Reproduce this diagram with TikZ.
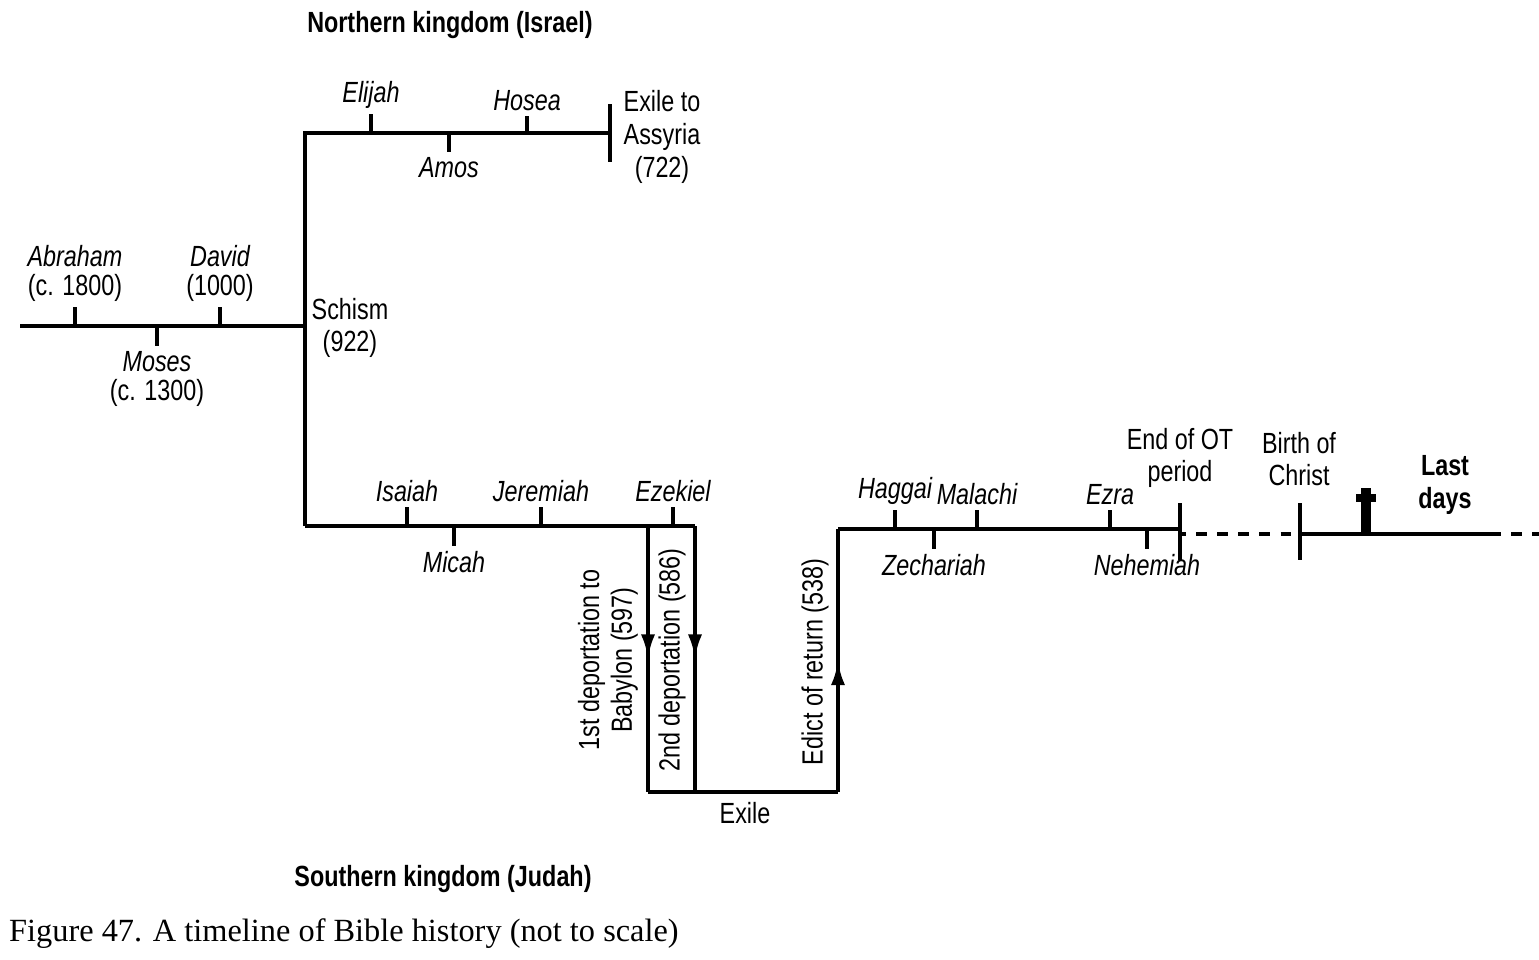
\documentclass[tikz,border=0pt]{standalone}
\usepackage{fontspec}
\setmainfont{Liberation Serif}
\setsansfont[FakeStretch=0.8]{Liberation Sans}
\usetikzlibrary{positioning,arrows.meta,decorations.markings}
\begin{document}
\begin{tikzpicture}[
  x=0.01cm, y=-0.01cm,
  every node/.style={font=\sffamily\fontsize{8.3}{9.3}\selectfont, inner sep=1pt, align=center},
  person/.style={font=\sffamily\itshape\fontsize{8.3}{9.3}\selectfont},
  head/.style={font=\sffamily\bfseries\fontsize{8.3}{9.3}\selectfont},
  line/.style={line width=1.2pt},
  arrdown/.style={postaction={decorate},decoration={markings,mark=at position 0.5 with {\arrow{Latex[length=7pt,width=4pt]}}}}
    ]
\useasboundingbox (0,0) rectangle (1539,959);

% main line
\coordinate (m0) at (20,326);
\coordinate (sch) at (305,326);
\draw[line] (m0) -- (sch);
\draw[line] (75,326) -- (75,307) node[person,above] (abr) {Abraham\\[-1pt]\normalfont\sffamily(c. 1800)};
\draw[line] (220,326) -- (220,307) node[person,above] (dav) {David\\[-1pt]\normalfont\sffamily(1000)};
\draw[line] (157,326) -- (157,346) node[person,below] (mos) {Moses\\[-1pt]\normalfont\sffamily(c. 1300)};
\node (schism) at (350,328) {Schism\\(922)};

% northern kingdom
\coordinate (n0) at (305,133);
\coordinate (n1) at (610,133);
\coordinate (s0) at (305,526);
\draw[line] (s0) -- (n0) -- (n1);
\draw[line] (610,104) -- (610,162);
\node (ass) at (662,137) {Exile to\\Assyria\\(722)};
\node[head] (nk) at (450,25) {Northern kingdom (Israel)};
\draw[line] (371,133) -- (371,114) node[person,above] (eli) {Elijah};
\draw[line] (527,133) -- (527,116) node[person,above] (hos) {Hosea};
\draw[line] (449,133) -- (449,152) node[person,below] (amo) {Amos};

% southern kingdom
\coordinate (s1) at (648,526);
\coordinate (s2) at (695,526);
\coordinate (b0) at (648,792);
\coordinate (b1) at (695,792);
\coordinate (b2) at (838,792);
\coordinate (r0) at (838,529);
\coordinate (r1) at (1180,529);
\draw[line] (s0) -- (s2);
\draw[line,arrdown] (s1) -- (b0);
\draw[line,arrdown] (s2) -- (b1);
\draw[line] (b0) -- (b2);
\draw[line,arrdown] (b2) -- (r0);
\draw[line] (r0) -- (r1);
\draw[line] (407,526) -- (407,507) node[person,above] (isa) {Isaiah};
\draw[line] (541,526) -- (541,507) node[person,above] (jer) {Jeremiah};
\draw[line] (673,526) -- (673,507) node[person,above] (eze) {Ezekiel};
\draw[line] (454,526) -- (454,546) node[person,below] (mic) {Micah};
\node[rotate=90] (dep1) at (608,660) {1st deportation to\\Babylon (597)};
\node[rotate=90] (dep2) at (672,660) {2nd deportation (586)};
\node[rotate=90] (edi) at (815,662) {Edict of return (538)};
\node (exi) at (745,813) {Exile};
\node[head] (sk) at (443,879) {Southern kingdom (Judah)};
\draw[line] (895,529) -- (895,510) node[person,above] (hag) {Haggai};
\draw[line] (977,529) -- (977,510) node[person,above] (mal) {Malachi};
\draw[line] (1110,529) -- (1110,510) node[person,above] (ezr) {Ezra};
\draw[line] (934,529) -- (934,549) node[person,below] (zec) {Zechariah};
\draw[line] (1147,529) -- (1147,549) node[person,below] (neh) {Nehemiah};

% end of timeline
\coordinate (e0) at (1300,534);
\coordinate (e1) at (1490,534);
\coordinate (e2) at (1539,534);
\draw[line] (1180,503) -- (1180,560);
\draw[line] (1300,503) -- (1300,560);
\draw[line,dashed] (r1) -- (1180,534) -- (e0);
\draw[line] (e0) -- (e1);
\draw[line,dashed] (e1) -- (e2);
\draw[line width=2.6pt] (1366,488) -- (1366,534);
\draw[line width=2.2pt] (1356,498) -- (1376,498);
\node (ot) at (1180,458) {End of OT\\period};
\node (bir) at (1299,459) {Birth of\\Christ};
\node[head] (ld) at (1445,485) {Last\\days};

\node[anchor=west,font=\rmfamily\fontsize{9.2}{11}\selectfont] (cap) at (5,934) {Figure 47. A timeline of Bible history (not to scale)};
\end{tikzpicture}
\end{document}
